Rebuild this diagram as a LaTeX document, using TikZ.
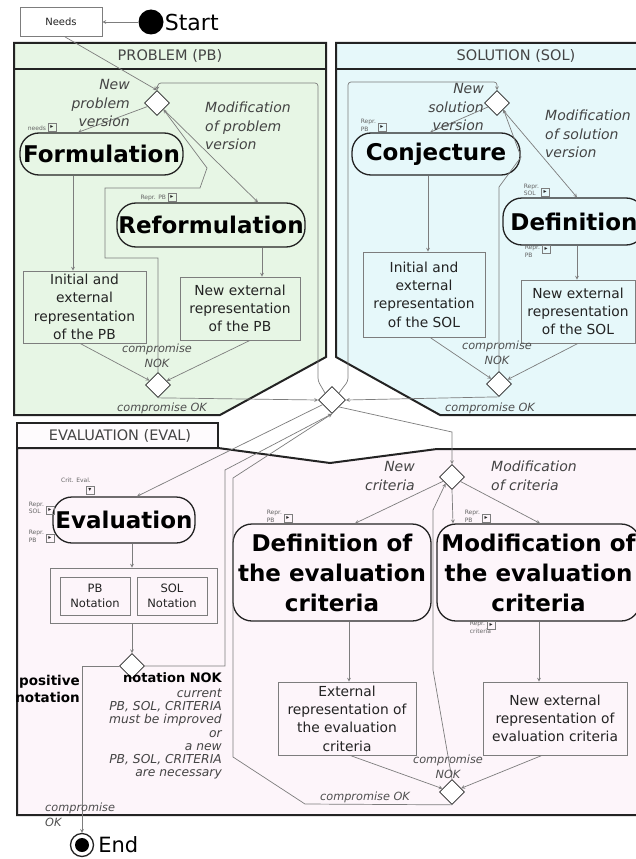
\documentclass[tikz,border=0pt]{standalone}
\usepackage{fontspec}
\setmainfont{DejaVu Sans}
\usepackage{tikz}
\usetikzlibrary{
    calc,
    arrows,
    positioning,
    shapes.geometric
}
\definecolor{pbgreen}{RGB}{231,246,229}
\definecolor{solcyan}{RGB}{230,248,250}
\definecolor{evalpink}{RGB}{253,245,250}
\definecolor{wire}{RGB}{125,125,125}
\definecolor{ink}{RGB}{35,35,35}
\tikzset{
    panel/.style={draw=ink, line width=2pt, line join=miter},
    headtext/.style={font=\fontsize{14.5}{17}\selectfont, text=ink!85},
    activity/.style={draw=ink, line width=1.3pt, rounded corners=19pt, align=center, inner sep=0pt, font=\fontsize{23}{30}\selectfont\bfseries},
    artefact/.style={draw=wire, line width=0.8pt, align=center, inner sep=0pt, font=\fontsize{13.8}{18.3}\selectfont, text=ink},
    choice/.style={diamond, draw=ink, line width=0.7pt, fill=white, aspect=1, minimum size=25pt, inner sep=0pt},
    flow/.style={draw=wire, line width=0.7pt, ->, >=stealth},
    guard/.style={font=\fontsize{14}{18.5}\selectfont\itshape, text=ink!85, inner sep=0pt},
    smallguard/.style={font=\fontsize{11.3}{15}\selectfont\itshape, text=ink!80, inner sep=0pt, align=center},
    pintext/.style={font=\fontsize{6}{7.5}\selectfont, text=ink!70, inner sep=0pt, align=left},
    pinbox/.style={draw=wire, line width=0.5pt, minimum size=8pt, inner sep=0pt, font=\fontsize{6}{6}\selectfont, text=ink},
    endstate/.style={circle, draw=ink, line width=1.3pt, minimum size=23pt, inner sep=0pt,
        path picture={\fill[black] (path picture bounding box.center) circle (7pt);}}
}
\newcommand{\reprpin}[3]{%
    \node[pinbox] (#1) at (#2) {▸};
    \node[pintext, anchor=south east] (#1txt) at ([xshift=-1.5pt]#1.south west) {#3};
}
\newcommand{\reprpinbelow}[4]{%
    \node[pinbox] (#1) at (#2) {▸};
    \node[pintext, anchor=north east] (#1txt) at ([xshift=-1.5pt]#1.north west) {#3};
    \node[pintext, anchor=north west] (#1sub) at ([yshift=-2pt]#1txt.south west) {#4};
}

\begin{document}
\begin{tikzpicture}[x=1pt, y=-1pt]
        \useasboundingbox (0,0) rectangle (636,859);
        \fill[white] (0,0) rectangle (636,859);

        \draw[panel, fill=pbgreen] (14,43) -- (326,43) -- (326,357) -- (220,415) -- (14,415) -- cycle;
        \draw[panel] (14,69) -- (326,69);
        \draw[panel, fill=solcyan] (336,43) -- (660,43) -- (660,415) -- (440,415) -- (336,357) -- cycle;
        \draw[panel] (336,69) -- (660,69);
        \draw[panel, fill=evalpink] (17,448) -- (218,448) -- (330,463) -- (437,449) -- (660,449) -- (660,815) -- (17,815) -- cycle;
        \draw[panel, fill=evalpink!40!white] (17,423) rectangle (218,448);

        \draw (170,56) node[headtext](pbhead){PROBLEM (PB)};
        \draw (516,56) node[headtext](solhead){SOLUTION (SOL)};
        \draw (120,436) node[headtext](evalhead){EVALUATION (EVAL)};

        \draw (61,22) node[artefact, minimum width=82pt, minimum height=29pt, font=\fontsize{10}{12}\selectfont](needs){Needs};
        \draw (151,22) node[circle, fill=black, minimum size=25pt, inner sep=0pt](start){};
        \node[right=0pt of start, font=\fontsize{22}{26}\selectfont, inner sep=1pt](startlbl){Start};

        \draw (157,103) node[choice](pbtop){};
        \draw (101.5,154) node[activity, minimum width=163pt, minimum height=42pt](formul){Formulation};
        \draw (211,225) node[activity, minimum width=188pt, minimum height=44pt](reform){Reformulation};
        \draw (84.5,307) node[artefact, minimum width=123pt, minimum height=72pt](pbinit){Initial and\\external\\representation\\of the PB};
        \draw (240,308.5) node[artefact, minimum width=120pt, minimum height=63pt](pbnew){New external\\representation\\of the PB};
        \draw (158,385) node[choice](pbbot){};

        \draw (497,103) node[choice](soltop){};
        \draw (436,154) node[activity, minimum width=168pt, minimum height=42pt](conj){Conjecture};
        \draw (574,221.5) node[activity, minimum width=142pt, minimum height=47pt](defin){Definition};
        \draw (424,294.5) node[artefact, minimum width=122pt, minimum height=85pt](solinit){Initial and\\external\\representation\\of the SOL};
        \draw (578,311.5) node[artefact, minimum width=114pt, minimum height=63pt](solnew){New external\\representation\\of the SOL};
        \draw (499,384) node[choice](solbot){};

        \draw (332,400) node[choice, minimum size=27pt](merge){};

        \draw (124,520) node[activity, minimum width=142pt, minimum height=46pt](evalbox){Evaluation};
        \draw (133.5,595.5) node[artefact, minimum width=167pt, minimum height=55pt](notgroup){};
        \draw (95,596) node[artefact, minimum width=70pt, minimum height=38pt, font=\fontsize{11.5}{15}\selectfont](pbnot){PB\\Notation};
        \draw (172,596) node[artefact, minimum width=70pt, minimum height=38pt, font=\fontsize{11.5}{15}\selectfont](solnot){SOL\\Notation};
        \draw (132,666) node[choice](evaldec){};

        \draw (452,477) node[choice](critdec){};
        \draw (332,572.5) node[activity, minimum width=198pt, minimum height=97pt](critdef){Definition of\\the evaluation\\criteria};
        \draw (538.5,572.5) node[activity, minimum width=203pt, minimum height=97pt](critmod){Modification of\\the evaluation\\criteria};
        \draw (347,718.5) node[artefact, minimum width=138pt, minimum height=73pt](critext){External\\representation of\\the evaluation\\criteria};
        \draw (555,718.5) node[artefact, minimum width=144pt, minimum height=73pt](critnew){New external\\representation of\\evaluation criteria};
        \draw (452,792) node[choice](critbot){};

        \draw (82,845) node[endstate](endnode){};
        \node[right=3pt of endnode, font=\fontsize{21}{25}\selectfont, inner sep=1pt](endlbl){End};

        \draw[flow] (start) to (needs);
        \draw[flow] (65,0 |- needs.south) to (pbtop.north);
        \draw[flow, rounded corners=3pt] (merge.north west) -- (318,381) -- (318,83) -- (158,83) -- (pbtop.north);
        \draw[flow] (pbtop) to (78,0 |- formul.north);
        \draw[flow] (pbtop) to (258,0 |- reform.north);
        \draw[flow] (73,0 |- formul.south) to (73,0 |- pbinit.north);
        \draw[flow] (262,0 |- reform.south) to (262,0 |- pbnew.north);
        \draw[flow] (80,0 |- pbinit.south) to (pbbot);
        \draw[flow] (250,0 |- pbnew.south) to (pbbot);
        \draw[flow] (pbbot.north) -- (158,258) -- (105,258) -- (105,188) -- (200,188) -- (207,168) -- (pbtop.south east);
        \draw[flow] (pbbot.south) -- (merge.west);

        \draw[flow, rounded corners=3pt] (merge.north east) -- (348,381) -- (348,82) -- (497,82) -- (soltop.north);
        \draw[flow] (soltop) to (430,0 |- conj.north);
        \draw[flow] (soltop) to (577,0 |- defin.north);
        \draw[flow] (428,0 |- conj.south) to (428,0 |- solinit.north);
        \draw[flow] (577,0 |- defin.south) to (577,0 |- solnew.north);
        \draw[flow] (430,0 |- solinit.south) to (solbot);
        \draw[flow] (578,0 |- solnew.south) to (solbot);
        \draw[flow] (solbot.north) -- (499,187) -- (521,157) -- (soltop.south east);
        \draw[flow] (solbot.south) -- (merge.east);

        \draw[flow] (merge) to (137,0 |- evalbox.north);
        \draw[flow] (132,0 |- evalbox.south) to (132,0 |- notgroup.north);
        \draw[flow] (132,0 |- notgroup.south) to (evaldec.north);
        \draw[flow] (evaldec.west) -- (82,666) -- (endnode.north);
        \draw[flow] (evaldec.east) -- (225,666) -- (225,470) -- (merge.south);
        \draw[flow] (critbot.south) -- (305,804) -- (233,757) -- (233,478) -- (merge.south);
        \draw[flow] (merge.south east) -- (452,432) -- (critdec.north);
        \draw[flow] (critdec) to (355,0 |- critdef.north);
        \draw[flow] (critdec) to (540,0 |- critmod.north);
        \draw[flow] (critdec.south) to (453,0 |- critmod.north);
        \draw[flow] (349,0 |- critdef.south) to (349,0 |- critext.north);
        \draw[flow] (539,0 |- critmod.south) to (539,0 |- critnew.north);
        \draw[flow] (350,0 |- critext.south) to (critbot);
        \draw[flow] (542,0 |- critnew.south) to (critbot);
        \draw[flow] (critbot.north) -- (433,670) -- (433,510) -- (critdec.south west);

        \draw (130,103) node[guard, anchor=east, align=right](pbnewlbl){New\\problem\\version};
        \draw (205,126) node[guard, anchor=west, align=left](pbmodlbl){Modification\\of problem\\version};
        \draw (157,356) node[smallguard](pbnok){compromise\\NOK};
        \draw (162,408) node[smallguard](pbok){compromise OK};

        \draw (484,107) node[guard, anchor=east, align=right](solnewlbl){New\\solution\\version};
        \draw (545,134) node[guard, anchor=west, align=left](solmodlbl){Modification\\of solution\\version};
        \draw (497,353) node[smallguard](solnok){compromise\\NOK};
        \draw (490,408) node[smallguard](solok){compromise OK};

        \draw (80,689) node[anchor=east, align=right, inner sep=0pt, font=\fontsize{13.5}{17}\selectfont\bfseries](poslbl){positive\\notation};
        \draw (222,678) node[anchor=east, inner sep=0pt, font=\fontsize{13}{16}\selectfont\bfseries](noklbl){notation NOK};
        \draw (222,734) node[anchor=east, align=right, inner sep=0pt, text=ink!85, font=\fontsize{12.3}{13.1}\selectfont\itshape](nokwhy){current\\PB, SOL, CRITERIA\\must be improved\\or\\a new\\PB, SOL, CRITERIA\\are necessary};
        \draw (45,815) node[smallguard, anchor=west, align=left](endok){compromise\\OK};
        \draw (415,476) node[guard, anchor=east, align=right](critnewlbl){New\\criteria};
        \draw (491,476) node[guard, anchor=west, align=left](critmodlbl){Modification\\of criteria};
        \draw (448,767) node[smallguard](critnok){compromise\\NOK};
        \draw (365,797) node[smallguard](critok){compromise OK};

        \reprpin{pinneeds}{52,127}{needs}
        \reprpin{pinreform}{172,197}{Repr. PB}
        \reprpin{pinconj}{382,127}{Repr.\\PB}
        \reprpin{pindefin}{545,192}{Repr.\\SOL}
        \reprpinbelow{pindefinb}{546,249}{Repr.}{PB}
        \node[pinbox] (pincrit) at (90,490) {▾};
        \node[pintext, anchor=south] (pincrittxt) at (76,483) {Crit. Eval.};
        \reprpin{pinevalsol}{50,510}{Repr.\\SOL}
        \reprpin{pinevalpb}{50,538}{Repr.\\PB}
        \reprpin{pincritdef}{288,518}{Repr.\\PB}
        \reprpin{pincritmod}{486,518}{Repr.\\PB}
        \reprpinbelow{pincritmodb}{491,625}{Repr.}{criteria}
    \end{tikzpicture}
\end{document}
